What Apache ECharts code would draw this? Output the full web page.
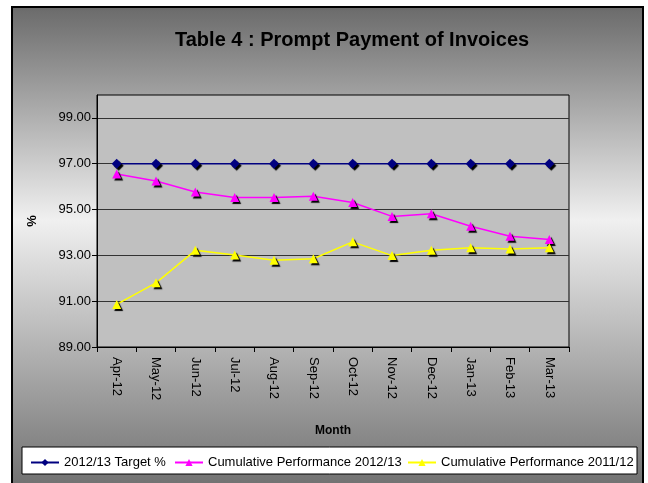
<!DOCTYPE html>
<html>
<head>
<meta charset="utf-8">
<title>Prompt Payment of Invoices</title>
<script src="https://cdn.jsdelivr.net/npm/echarts@6/dist/echarts.min.js"></script>
<style>
    html, body {margin: 0; padding: 0; background: #fff;}
    #paymentChart {width: 648px; height: 483px;}
</style>
</head>
<body>
<div id="paymentChart"></div>
<script>
var months = ['Apr-12', 'May-12', 'Jun-12', 'Jul-12', 'Aug-12', 'Sep-12', 'Oct-12', 'Nov-12', 'Dec-12', 'Jan-13', 'Feb-13', 'Mar-13'];
var target = [97, 97, 97, 97, 97, 97, 97, 97, 97, 97, 97, 97];
var perf1213 = [96.55, 96.25, 95.77, 95.53, 95.53, 95.58, 95.31, 94.70, 94.82, 94.27, 93.83, 93.69];
var perf1112 = [90.86, 91.80, 93.22, 93.02, 92.79, 92.85, 93.59, 92.99, 93.22, 93.33, 93.28, 93.33];
var yTicks = [89, 91, 93, 95, 97, 99];
var seriesNames = ['2012/13 Target %', 'Cumulative Performance 2012/13', 'Cumulative Performance 2011/12'];

var fontName = 'Liberation Sans, Arial, sans-serif';

function markStyle(color) {
    return {
        color: color,
        shadowColor: '#000',
        shadowBlur: 1,
        shadowOffsetX: 2,
        shadowOffsetY: 2
    };
}

// one legend per item so they sit where excel put them
function legendAt(left, name) {
    return {
        left: left,
        top: 456,
        padding: 0,
        itemWidth: 28,
        itemHeight: 9,
        textStyle: {fontFamily: fontName, fontSize: 13, color: '#000'},
        data: [name]
    };
}

var paymentOption = {
    animation: false,
    backgroundColor: '#fff',
    textStyle: {fontFamily: fontName, color: '#000'},
    graphic: [{
        type: 'rect',
        shape: {x: 12, y: 7, width: 631, height: 485},
        style: {
            fill: new echarts.graphic.LinearGradient(0, 0, 0, 1, [
                {offset: 0, color: '#6a6a6a'},
                {offset: 0.44, color: '#f0f0f0'},
                {offset: 1, color: '#6e6e6e'}
            ]),
            stroke: '#000',
            lineWidth: 2
        },
        z: -10
    }, {
        type: 'rect',
        shape: {x: 22, y: 447, width: 615, height: 27},
        style: {fill: '#fff', stroke: '#000', lineWidth: 1},
        z: -5
    }],
    title: {
        text: 'Table 4 : Prompt Payment of Invoices',
        left: 170,
        top: 25,
        textStyle: {fontFamily: fontName, fontSize: 20, fontWeight: 'bold', color: '#000'}
    },
    legend: [
        legendAt(30, seriesNames[0]),
        legendAt(174, seriesNames[1]),
        legendAt(407, seriesNames[2])
    ],
    grid: {
        left: 97,
        right: 79,
        top: 95,
        bottom: 136,
        show: true,
        backgroundColor: '#c0c0c0',
        borderColor: '#000',
        borderWidth: 1
    },
    xAxis: {
        type: 'category',
        boundaryGap: true,
        data: months,
        name: 'Month',
        nameLocation: 'middle',
        nameGap: 78,
        nameTextStyle: {fontFamily: fontName, fontSize: 12, fontWeight: 'bold', color: '#000'},
        axisLine: {lineStyle: {color: '#000', width: 1}},
        axisTick: {show: true, length: 5, alignWithLabel: false, lineStyle: {color: '#000'}},
        axisLabel: {rotate: -90, margin: 10, fontSize: 13, color: '#000', fontFamily: fontName, interval: 0}
    },
    yAxis: {
        type: 'value',
        min: 89,
        max: 100,
        interval: 2,
        name: '%',
        nameLocation: 'middle',
        nameGap: 58,
        nameTextStyle: {fontFamily: fontName, fontSize: 13, fontWeight: 'bold', color: '#000'},
        axisLine: {show: true, lineStyle: {color: '#000', width: 1}},
        axisTick: {show: true, length: 5, inside: false, customValues: yTicks, lineStyle: {color: '#000'}},
        axisLabel: {
            fontSize: 13,
            color: '#000',
            fontFamily: fontName,
            margin: 6,
            customValues: yTicks,
            formatter: function (v) {
                return v.toFixed(2);
            }
        },
        splitLine: {show: true, lineStyle: {color: '#333', width: 1}}
    },
    series: [{
        name: seriesNames[0],
        type: 'line',
        data: target,
        symbol: 'diamond',
        symbolSize: 10,
        lineStyle: {color: '#000080', width: 1.5},
        itemStyle: markStyle('#000080')
    }, {
        name: seriesNames[1],
        type: 'line',
        data: perf1213,
        symbol: 'triangle',
        symbolSize: 9,
        lineStyle: {color: '#ff00ff', width: 1.5},
        itemStyle: markStyle('#ff00ff')
    }, {
        name: seriesNames[2],
        type: 'line',
        data: perf1112,
        symbol: 'triangle',
        symbolSize: 9,
        lineStyle: {color: '#ffff00', width: 1.5},
        itemStyle: markStyle('#ffff00')
    }]
};

var paymentChart = echarts.init(document.getElementById('paymentChart'));
paymentChart.setOption(paymentOption);
</script>
</body>
</html>
